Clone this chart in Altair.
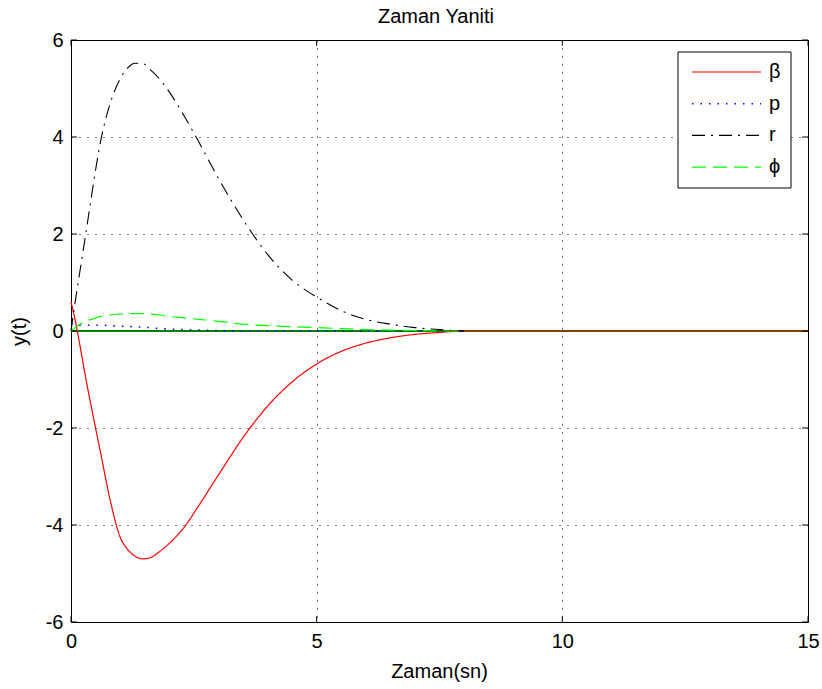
import altair as alt
import pandas as pd

# ---- data ----
t = [0, 0.1, 0.2, 0.3, 0.45, 0.6, 0.8, 1.0, 1.15, 1.3, 1.45, 1.6, 1.8, 2.0, 2.3, 2.6,
     3.0, 3.5, 4.0, 4.5, 5.0, 5.5, 6.0, 6.5, 7.0, 7.5, 8.0]
beta = [0.6, 0.15, -0.4, -0.97, -1.75, -2.5, -3.5, -4.25, -4.5, -4.64, -4.70, -4.68,
        -4.55, -4.38, -4.05, -3.6, -2.97, -2.2, -1.55, -1.05, -0.68, -0.42, -0.25,
        -0.14, -0.07, -0.03, 0.0]
p = [0.15, 0.13, 0.12, 0.12, 0.12, 0.12, 0.11, 0.10, 0.095, 0.085, 0.08, 0.07, 0.05,
     0.04, 0.03, 0.02, 0.01, 0.0, 0.0, 0.0, 0.0, 0.0, 0.0, 0.0, 0.0, 0.0, 0.0]
r = [0.0, 0.7, 1.35, 2.0, 3.0, 3.9, 4.7, 5.2, 5.42, 5.52, 5.52, 5.4, 5.2, 4.93, 4.44,
     3.9, 3.15, 2.3, 1.58, 1.05, 0.7, 0.42, 0.24, 0.14, 0.07, 0.03, 0.0]
phi = [0.0, 0.08, 0.15, 0.2, 0.25, 0.3, 0.33, 0.35, 0.355, 0.36, 0.36, 0.35, 0.33, 0.3,
       0.27, 0.24, 0.2, 0.14, 0.11, 0.09, 0.07, 0.05, 0.03, 0.02, 0.01, 0.0, 0.0]
beta_tail_t = [15]
beta_tail = [0.0]
zero_t = [0, 15]
zero_y = [0.0, 0.0]

x_ticks = [0, 5, 10, 15]
y_ticks = [-6, -4, -2, 0, 2, 4, 6]

names = ["β", "p", "r", "ϕ"]
colors = ["#ff0000", "#0000ff", "#000000", "#00ff00"]
widths = [1.2, 1.6, 1.1, 1.2]
dashes = [[1, 0], [1.5, 7], [13, 6, 2, 6], [14, 7]]

FONT = "Liberation Sans, Arial, sans-serif"
W, H = 737, 582

xs = alt.Scale(domain=[0, 15], nice=False, zero=False)
ys = alt.Scale(domain=[-6, 6], nice=False, zero=False)

xaxis = alt.Axis(values=x_ticks, title="Zaman(sn)", grid=True, ticks=False, tickSize=0,
                 domain=False, labelFlush=False, labelOverlap=False,
                 labelExpr="datum.value + ''",
                 labelBaseline="alphabetic", labelPadding=25,
                 titleX=368, titleY=55, titleBaseline="alphabetic", titleAlign="center")
yaxis = alt.Axis(values=y_ticks, title="y(t)", grid=True, ticks=False, tickSize=0,
                 domain=False, labelOverlap=False, labelPadding=8, labelFlush=False,
                 labelExpr="datum.value + ''",
                 titleX=-52, titleY=291, titleAngle=-90, titleAlign="center",
                 titleBaseline="middle")

series_vals = [beta, p, r, phi]
rows = []
for name, vals in zip(names, series_vals):
    for tt, v in zip(t, vals):
        rows.append({"t": tt, "y": v, "s": name})
for tt, v in zip(beta_tail_t, beta_tail):
    rows.append({"t": tt, "y": v, "s": "β"})
df = pd.DataFrame(rows)

zero_df = pd.DataFrame({"t": zero_t, "y": zero_y})
zero_line = alt.Chart(zero_df).mark_line(color="#008000", strokeWidth=2).encode(
    x=alt.X("t:Q", scale=xs, axis=xaxis),
    y=alt.Y("y:Q", scale=ys, axis=yaxis),
)

layers = [zero_line]
for name, col, w, dash in zip(names, colors, widths, dashes):
    layers.append(
        alt.Chart(df[df.s == name]).mark_line(
            color=col, strokeWidth=w, strokeDash=dash, interpolate="monotone"
        ).encode(x=alt.X("t:Q", scale=xs), y=alt.Y("y:Q", scale=ys))
    )

# inward box ticks (MATLAB style)
tl_x = 0.12
tl_y = 0.12
xt_df = pd.DataFrame({"t": x_ticks * 2,
                      "y1": [-6] * 4 + [6 - tl_y] * 4,
                      "y2": [-6 + tl_y] * 4 + [6] * 4})
yt_df = pd.DataFrame({"y": y_ticks * 2,
                      "x1": [0] * 7 + [15 - tl_x] * 7,
                      "x2": [tl_x] * 7 + [15] * 7})
layers.append(alt.Chart(xt_df).mark_rule(color="black", strokeWidth=1).encode(
    x=alt.X("t:Q", scale=xs), y=alt.Y("y1:Q", scale=ys), y2="y2:Q"))
layers.append(alt.Chart(yt_df).mark_rule(color="black", strokeWidth=1).encode(
    y=alt.Y("y:Q", scale=ys), x=alt.X("x1:Q", scale=xs), x2="x2:Q"))

# legend (drawn manually)
leg_left, leg_right, leg_top, leg_bottom = 607, 720, 12, 148
line_x1, line_x2, label_x = 621, 690, 698
row_y0, row_dy = 32, 31.7
legend_box = alt.Chart(pd.DataFrame({"a": [0]})).mark_rect(
    fill="white", stroke="black", strokeWidth=1
).encode(x=alt.value(leg_left), x2=alt.value(leg_right),
         y=alt.value(leg_top), y2=alt.value(leg_bottom))
layers.append(legend_box)
for i, (name, col, w, dash) in enumerate(zip(names, colors, widths, dashes)):
    yy = row_y0 + i * row_dy
    layers.append(alt.Chart(pd.DataFrame({"a": [0]})).mark_rule(
        color=col, strokeWidth=w, strokeDash=dash
    ).encode(x=alt.value(line_x1), x2=alt.value(line_x2), y=alt.value(yy)))
    layers.append(alt.Chart(pd.DataFrame({"a": [name]})).mark_text(
        font=FONT, fontSize=20, align="left", baseline="middle", color="black"
    ).encode(x=alt.value(label_x), y=alt.value(yy), text="a:N"))

# title as text above the plot area
title_txt = alt.Chart(pd.DataFrame({"a": ["Zaman Yaniti"]})).mark_text(
    font=FONT, fontSize=20, align="center", baseline="alphabetic", color="black"
).encode(x=alt.value(365), y=alt.value(-17.5), text="a:N")
layers.append(title_txt)

chart = alt.layer(*layers).properties(
    width=W, height=H,
    autosize=alt.AutoSizeParams(type="none"),
    padding={"left": 71, "top": 40, "right": 14, "bottom": 67},
    background="white",
).configure_view(
    stroke="black", strokeWidth=1
).configure_axis(
    labelFont=FONT, labelFontSize=20, labelColor="black",
    titleFont=FONT, titleFontSize=20, titleFontWeight="normal", titleColor="black",
    gridColor="black", gridDash=[1, 7], gridWidth=1, gridOpacity=1,
)

chart.save("out.html", embed_options={"renderer": "svg", "actions": False})
